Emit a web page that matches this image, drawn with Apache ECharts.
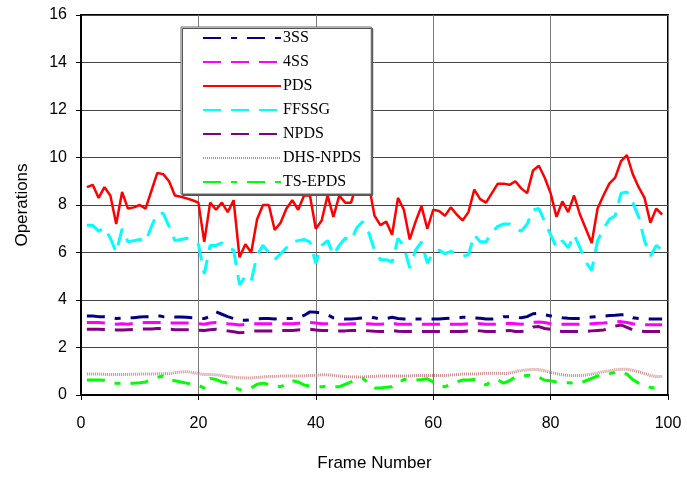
<!DOCTYPE html>
<html lang="en">
<head>
    <meta charset="UTF-8">
    <title>Operations per frame</title>
    <script src="https://cdn.jsdelivr.net/npm/echarts@6/dist/echarts.min.js"></script>
    <style>
        html, body { margin: 0; padding: 0; background: #fff; }
    </style>
</head>
<body>
<div id="main" style="width: 687px;height:477px"></div>
<script>
    // frame numbers 1..99
    const frames = []
    for (let i = 1; i <= 99; i++) frames.push(i)

    const xTicks = [0, 20, 40, 60, 80, 100]
    const yTicks = [0, 2, 4, 6, 8, 10, 12, 14, 16]

    const ss3 = [
        3.33, 3.33, 3.3, 3.3, 3.28, 3.22, 3.23, 3.25, 3.25, 3.28,
        3.3, 3.3, 3.35, 3.3, 3.3, 3.28, 3.28, 3.27, 3.25, 3.23,
        3.22, 3.3, 3.5, 3.4, 3.3, 3.22, 3.15, 3.15, 3.17, 3.2,
        3.22, 3.22, 3.2, 3.22, 3.22, 3.22, 3.25, 3.35, 3.5, 3.48,
        3.45, 3.38, 3.25, 3.22, 3.2, 3.2, 3.22, 3.25, 3.28, 3.25,
        3.2, 3.22, 3.27, 3.22, 3.2, 3.2, 3.2, 3.2, 3.2, 3.2,
        3.2, 3.22, 3.23, 3.23, 3.27, 3.27, 3.25, 3.23, 3.2, 3.2,
        3.22, 3.3, 3.3, 3.27, 3.25, 3.3, 3.42, 3.44, 3.38, 3.33,
        3.3, 3.25, 3.23, 3.22, 3.22, 3.25, 3.28, 3.3, 3.32, 3.35,
        3.36, 3.38, 3.38, 3.25, 3.22, 3.2, 3.2, 3.2, 3.2
    ]

    const ss4 = [
        3.05, 3.05, 3.05, 3.03, 3.0, 2.98, 3.0, 2.98, 3.02, 3.03,
        3.05, 3.05, 3.05, 3.06, 3.03, 3.03, 3.03, 3.03, 3.03, 3.0,
        2.98, 3.03, 3.05, 3.03, 3.0, 2.98, 2.95, 2.97, 3.0, 3.0,
        3.0, 3.0, 3.0, 3.0, 3.0, 3.0, 3.02, 3.03, 3.05, 3.03,
        3.0, 3.0, 3.0, 2.98, 2.98, 3.0, 3.0, 3.0, 3.0, 2.98,
        2.98, 3.0, 3.02, 2.98, 2.98, 2.98, 2.98, 2.98, 2.98, 2.98,
        2.98, 2.98, 2.98, 2.98, 2.98, 3.0, 3.02, 3.0, 2.98, 2.98,
        2.98, 3.0, 3.02, 3.0, 2.98, 3.0, 3.06, 3.07, 3.05, 3.0,
        2.98, 2.98, 2.98, 2.98, 2.98, 2.98, 3.0, 3.02, 3.03, 3.05,
        3.08, 3.09, 3.05, 3.0, 2.98, 2.96, 2.96, 2.96, 2.96
    ]

    const pds = [
        8.75, 8.85, 8.3, 8.75, 8.4, 7.2, 8.55, 7.85, 7.9, 8.0,
        7.85, 8.6, 9.35, 9.3, 9.0, 8.4, 8.35, 8.28, 8.2, 8.1,
        6.45, 8.1, 7.8, 8.1, 7.7, 8.2, 5.8, 6.35, 6.0, 7.4,
        8.0, 8.0, 6.95, 7.25, 7.85, 8.2, 7.8, 8.4, 8.4, 7.0,
        7.35, 8.4, 7.5, 8.4, 8.1, 8.1, 8.9, 8.95, 8.9, 7.55,
        7.15, 7.3, 6.75, 8.3, 7.8, 6.55, 7.3, 7.95, 7.0, 7.8,
        7.75, 7.55, 7.9, 7.6, 7.35, 7.7, 8.65, 8.25, 8.1, 8.5,
        8.9, 8.9, 8.85, 9.0, 8.7, 8.5, 9.45, 9.65, 9.15, 8.5,
        7.5, 8.15, 7.7, 8.4, 7.6, 7.0, 6.4, 7.85, 8.4, 8.9,
        9.15, 9.85, 10.1, 9.3, 8.75, 8.3, 7.25, 7.85, 7.6
    ]

    const ffssg = [
        7.15, 7.15, 6.9, 7.05, 6.6, 6.0, 7.0, 6.45, 6.5, 6.55,
        6.45, 7.1, 7.65, 7.65, 7.1, 6.5, 6.55, 6.6, 6.5, 6.35,
        5.1, 6.3, 6.3, 6.4, 6.2, 6.1, 4.65, 5.0, 4.8, 5.9,
        6.3, 6.0, 5.7, 5.95, 6.2, 6.45, 6.5, 6.55, 6.45, 5.55,
        6.3, 6.5, 5.9, 6.3, 6.6, 6.5, 7.05, 7.3, 6.85, 6.1,
        5.7, 5.7, 5.6, 6.6, 6.25, 5.35, 6.1, 6.45, 5.55, 6.0,
        6.1, 5.95, 6.05, 5.95, 5.85, 5.9, 6.75, 6.45, 6.45, 6.85,
        7.1, 7.2, 7.2, 7.0, 6.9, 7.2, 7.8, 7.85, 7.3, 6.75,
        6.2, 6.5, 6.2, 6.75, 6.2, 5.6, 5.25, 6.5, 7.0, 7.4,
        7.55, 8.5, 8.55, 8.1, 7.5, 6.5, 5.85, 6.3, 6.1
    ]

    const npds = [
        2.77, 2.77, 2.77, 2.76, 2.75, 2.74, 2.74, 2.75, 2.76, 2.77,
        2.78, 2.78, 2.8, 2.8, 2.77, 2.75, 2.75, 2.75, 2.75, 2.73,
        2.72, 2.75, 2.77, 2.74, 2.7, 2.66, 2.62, 2.64, 2.68, 2.7,
        2.7, 2.7, 2.7, 2.72, 2.72, 2.72, 2.74, 2.75, 2.77, 2.74,
        2.72, 2.72, 2.7, 2.7, 2.7, 2.72, 2.72, 2.72, 2.7, 2.68,
        2.67, 2.68, 2.72, 2.68, 2.67, 2.67, 2.67, 2.67, 2.67, 2.67,
        2.67, 2.67, 2.67, 2.67, 2.67, 2.7, 2.72, 2.7, 2.67, 2.67,
        2.67, 2.7, 2.72, 2.67, 2.67, 2.72, 2.86, 2.88, 2.8, 2.77,
        2.7, 2.67, 2.67, 2.67, 2.67, 2.67, 2.7, 2.72, 2.74, 2.8,
        2.9, 2.95, 2.85, 2.74, 2.7, 2.67, 2.67, 2.67, 2.67
    ]

    const dhsNpds = [
        0.88, 0.88, 0.88, 0.87, 0.86, 0.86, 0.86, 0.87, 0.87, 0.88,
        0.88, 0.88, 0.9, 0.9, 0.9, 0.94, 0.97, 0.98, 0.95, 0.9,
        0.86, 0.86, 0.85, 0.82, 0.78, 0.75, 0.73, 0.72, 0.72, 0.74,
        0.76, 0.78, 0.78, 0.8, 0.8, 0.8, 0.8, 0.8, 0.82, 0.83,
        0.85, 0.85, 0.83, 0.8, 0.78, 0.76, 0.76, 0.76, 0.77, 0.78,
        0.8, 0.8, 0.8, 0.8, 0.8, 0.8, 0.82, 0.82, 0.82, 0.82,
        0.82, 0.82, 0.84, 0.86, 0.88, 0.88, 0.88, 0.9, 0.92, 0.92,
        0.92, 0.9, 0.92, 0.98, 1.03, 1.06, 1.08, 1.07, 1.02, 0.95,
        0.9, 0.85, 0.82, 0.82, 0.82, 0.84, 0.88, 0.93, 0.98, 1.02,
        1.06, 1.08, 1.08, 1.04, 0.98, 0.9, 0.82, 0.78, 0.78
    ]

    const tsEpds = [
        0.63, 0.63, 0.63, 0.62, 0.55, 0.49, 0.5, 0.5, 0.5, 0.52,
        0.55, 0.65, 0.75, 0.8, 0.65, 0.6, 0.55, 0.5, 0.45, 0.4,
        0.3, 0.7, 0.65, 0.55, 0.5, 0.35, 0.22, 0.25, 0.3, 0.45,
        0.5, 0.45, 0.4, 0.35, 0.45, 0.6, 0.55, 0.42, 0.38, 0.35,
        0.35, 0.38, 0.35, 0.35, 0.45, 0.55, 0.65, 0.7, 0.5, 0.3,
        0.3, 0.33, 0.35, 0.5, 0.65, 0.65, 0.63, 0.65, 0.68, 0.55,
        0.4, 0.35, 0.45, 0.55, 0.63, 0.63, 0.65, 0.55, 0.42, 0.6,
        0.63, 0.5, 0.6, 0.77, 0.8, 0.82, 0.84, 0.75, 0.62, 0.6,
        0.55, 0.52, 0.52, 0.5, 0.5, 0.6, 0.7, 0.8, 0.84, 0.9,
        0.95, 0.97, 0.88, 0.65, 0.5, 0.4, 0.32, 0.3, 0.3
    ]

    function pairs(values) {
        return values.map((v, i) => [frames[i], v])
    }

    const dashDot = [18, 10, 6, 10]
    const dash = [18, 10]

    const seriesDefs = [
        { name: '3SS', data: ss3, color: '#000080', type: dashDot, width: 3 },
        { name: '4SS', data: ss4, color: '#ff00ff', type: dash, width: 3 },
        { name: 'PDS', data: pds, color: '#ff0000', type: 'solid', width: 2.5 },
        { name: 'FFSSG', data: ffssg, color: '#00ffff', type: dash, width: 3 },
        { name: 'NPDS', data: npds, color: '#800080', type: dash, width: 3 },
        { name: 'DHS-NPDS', data: dhsNpds, color: '#d08a8a', type: [1, 1], width: 3 },
        { name: 'TS-EPDS', data: tsEpds, color: '#00ff00', type: dashDot, width: 3 }
    ]

    const myChart = echarts.init(document.getElementById('main'))
    const option = {
        animation: false,
        backgroundColor: '#fff',
        grid: {
            left: 81, right: 19, top: 15, bottom: 82,
            show: true,
            borderColor: '#000',
            borderWidth: 2
        },
        legend: {
            orient: 'vertical',
            left: 181,
            top: 27,
            padding: [3, 10, 4, 21],
            itemWidth: 78,
            itemHeight: 14,
            itemGap: 8,
            backgroundColor: '#fff',
            borderColor: '#666',
            borderWidth: 1,
            shadowColor: '#555',
            shadowBlur: 0,
            shadowOffsetX: 1.5,
            shadowOffsetY: 1.5,
            borderRadius: 0,
            // hide the symbol, keep the line sample
            itemStyle: { color: 'rgba(0,0,0,0)', borderWidth: 0 },
            textStyle: {
                fontFamily: 'Liberation Serif',
                fontSize: 16,
                color: '#000',
                padding: [0, 0, 0, -3]
            },
            data: seriesDefs.map(s => s.name)
        },
        xAxis: {
            type: 'value',
            min: xTicks[0],
            max: xTicks[xTicks.length - 1],
            interval: 20,
            name: 'Frame Number',
            nameLocation: 'middle',
            nameGap: 60,
            nameTextStyle: { fontFamily: 'Liberation Sans', fontSize: 17, color: '#000' },
            axisLine: { show: true, lineStyle: { color: '#000', width: 2 } },
            axisTick: { show: true, length: 5, lineStyle: { color: '#000', width: 1 } },
            axisLabel: { fontFamily: 'Liberation Sans', fontSize: 16, color: '#000', margin: 21 },
            splitLine: { show: true, lineStyle: { color: '#7a7a7a', width: 1 } }
        },
        yAxis: {
            type: 'value',
            min: yTicks[0],
            max: yTicks[yTicks.length - 1],
            interval: 2,
            name: 'Operations',
            nameLocation: 'middle',
            nameGap: 50,
            nameTextStyle: { fontFamily: 'Liberation Sans', fontSize: 17, color: '#000' },
            axisLine: { show: true, lineStyle: { color: '#000', width: 2 } },
            axisTick: { show: true, length: 5, lineStyle: { color: '#000', width: 1 } },
            axisLabel: { fontFamily: 'Liberation Sans', fontSize: 16, color: '#000', margin: 14 },
            splitLine: { show: true, lineStyle: { color: '#444', width: 1 } }
        },
        series: seriesDefs.map(s => ({
            name: s.name,
            type: 'line',
            data: pairs(s.data),
            symbol: 'none',
            color: s.color,
            lineStyle: { color: s.color, type: s.type, width: s.width, cap: 'butt' },
            z: 2
        }))
    }
    myChart.setOption(option)
</script>
</body>
</html>
